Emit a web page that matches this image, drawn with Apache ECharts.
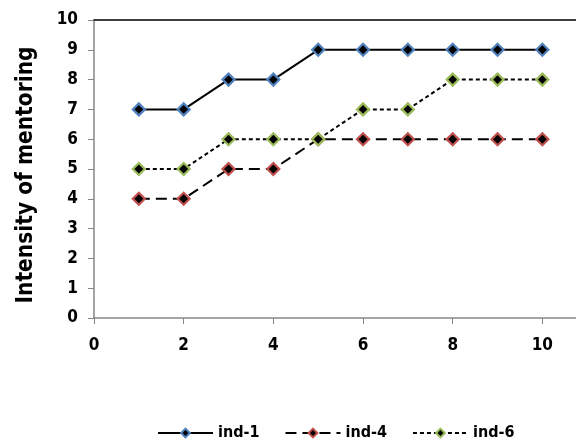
<!DOCTYPE html>
<html><head><meta charset="utf-8">
<script src="https://cdn.jsdelivr.net/npm/echarts@6/dist/echarts.min.js"></script>
<style>html,body{margin:0;padding:0;background:#fff}#c{width:576px;height:441px}</style>
</head><body><div id="c"></div>
<script>
var xValues = [1,2,3,4,5,6,7,8,9,10];
var ind1 = [7,7,8,8,9,9,9,9,9,9];
var ind4 = [4,4,5,5,6,6,6,6,6,6];
var ind6 = [5,5,6,6,6,7,7,8,8,8];
var seriesNames = ['ind-1','ind-4','ind-6'];
var yTitle = 'Intensity of mentoring';

var FONT = '"DejaVu Sans Condensed", "Liberation Sans Narrow", sans-serif';
function pairs(v){ return v.map(function(y,i){ return [xValues[i], y]; }); }
function mk(name, data, border, dash){
  return {
    name: name, type: 'line', data: pairs(data),
    symbol: 'diamond', symbolSize: 12,
    itemStyle: {color: '#000', borderColor: border, borderWidth: 2.2},
    lineStyle: {color: '#000', width: 2, type: dash},
    emphasis: {disabled: true}, animation: false
  };
}
var chart = echarts.init(document.getElementById('c'));
chart.setOption({
  animation: false,
  grid: {left: 94, right: 0, top: 20, bottom: 123},
  xAxis: [{
    type: 'value', min: 0, max: 10.75, interval: 2,
    axisLine: {show: true, lineStyle: {color: '#868686', width: 1.5}},
    axisTick: {show: true, length: 6, lineStyle: {color: '#868686'}},
    splitLine: {show: false},
    axisLabel: {color: '#000', fontFamily: FONT, fontWeight: 'bold', fontSize: 17, margin: 19,
      showMaxLabel: false}
  },{
    type: 'value', position: 'top', min: 0, max: 10.75,
    axisLine: {show: true, lineStyle: {color: '#000', width: 1.5}},
    axisTick: {show: false}, axisLabel: {show: false}, splitLine: {show: false}
  }],
  yAxis: {
    type: 'value', min: 0, max: 10, interval: 1,
    name: yTitle, nameLocation: 'middle', nameGap: 56, nameRotate: 90,
    nameTextStyle: {color: '#000', fontFamily: FONT, fontWeight: 'bold', fontSize: 22.5,
      padding: [0, 12, 0, 0]},
    axisLine: {show: true, lineStyle: {color: '#868686', width: 1.5}},
    axisTick: {show: true, length: 6, lineStyle: {color: '#868686'}},
    splitLine: {show: false},
    axisLabel: {color: '#000', fontFamily: FONT, fontWeight: 'bold', fontSize: 17, margin: 16}
  },
  legend: {
    top: 420, left: 152, itemWidth: 55, itemHeight: 11, itemGap: 25,
    textStyle: {color: '#000', fontFamily: FONT, fontWeight: 'bold', fontSize: 16},
    data: seriesNames
  },
  series: [
    mk(seriesNames[0], ind1, '#4F81BD', 'solid'),
    mk(seriesNames[1], ind4, '#C0504D', [11,6]),
    mk(seriesNames[2], ind6, '#9BBB59', [4,3])
  ]
});
</script></body></html>
